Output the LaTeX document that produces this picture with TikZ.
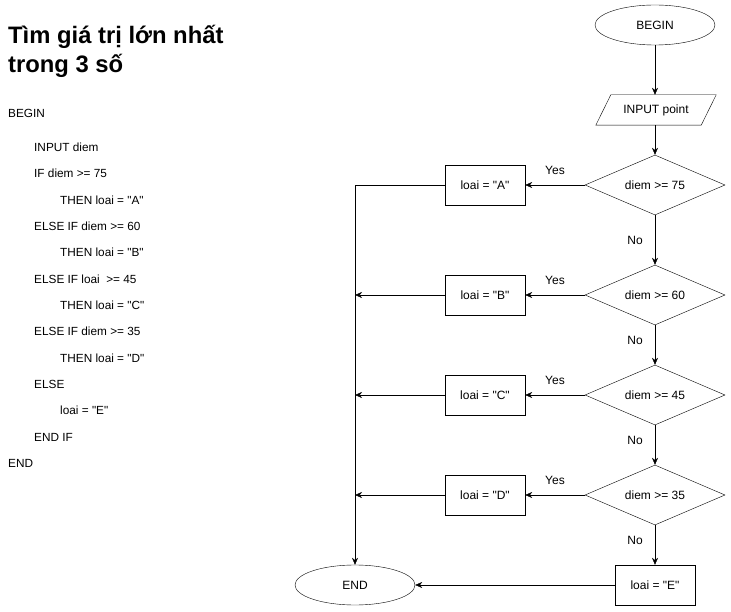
\documentclass[tikz,border=0pt]{standalone}
\usepackage{fontspec}
\setmainfont{Liberation Sans}[Ligatures=TeXOff]
\usetikzlibrary{shapes.geometric,arrows.meta}
\begin{document}
\begin{tikzpicture}[x=1pt,y=-1pt,
  every node/.style={font=\fontsize{12}{14}\selectfont},
  term/.style={draw,ellipse,minimum width=120pt,minimum height=40pt,inner sep=0pt},
  iobox/.style={rectangle,minimum width=120pt,minimum height=30pt,inner sep=0pt},
  decision/.style={draw,diamond,aspect=2.33,minimum width=140pt,minimum height=60pt,inner sep=0pt},
  proc/.style={draw,rectangle,minimum width=80pt,minimum height=40pt,inner sep=0pt},
  arr/.style={draw,-{Stealth[length=7pt,width=6pt]}},
  lbl/.style={font=\fontsize{12}{14}\selectfont,inner sep=0pt},
  code/.style={anchor=west,inner sep=0pt,font=\fontsize{11.8}{14}\selectfont},
  title/.style={anchor=west,inner sep=0pt,font=\fontsize{23.8}{28}\bfseries\selectfont}
]
\useasboundingbox (0,0) rectangle (731,612);

% title
\node[title] (t1) at (8,37) {Tìm giá trị lớn nhất};
\node[title] (t2) at (8,66) {trong 3 số};

% pseudocode
\node[code] (c1) at (8,113) {BEGIN};
\node[code] (c2) at (34,147) {INPUT diem};
\node[code] (c3) at (34,173) {IF diem >= 75};
\node[code] (c4) at (60,200) {THEN loai = "A"};
\node[code] (c5) at (34,226) {ELSE IF diem >= 60};
\node[code] (c6) at (60,252) {THEN loai = "B"};
\node[code] (c7) at (34,279) {ELSE IF loai \ >= 45};
\node[code] (c8) at (60,305) {THEN loai = "C"};
\node[code] (c9) at (34,331) {ELSE IF diem >= 35};
\node[code] (c10) at (60,358) {THEN loai = "D"};
\node[code] (c11) at (34,384) {ELSE};
\node[code] (c12) at (60,410) {loai = "E"};
\node[code] (c13) at (34,437) {END IF};
\node[code] (c14) at (8,463) {END};

% flowchart
\node[term] (begin) at (655,25) {BEGIN};
\node[iobox] (input) at (656,110) {INPUT point};
\draw ([xshift=15pt]input.north west) -- (input.north east)
      -- ([xshift=-15pt]input.south east) -- (input.south west) -- cycle;
\node[decision] (d1) at (655,185) {diem >= 75};
\node[decision] (d2) at (655,295) {diem >= 60};
\node[decision] (d3) at (655,395) {diem >= 45};
\node[decision] (d4) at (655,495) {diem >= 35};
\node[proc] (a) at (485,185) {loai = "A"};
\node[proc] (b) at (485,295) {loai = "B"};
\node[proc] (c) at (485,395) {loai = "C"};
\node[proc] (d) at (485,495) {loai = "D"};
\node[proc] (e) at (655,585) {loai = "E"};
\node[term] (end) at (355,585) {END};

\coordinate (ja) at (355,185);
\coordinate (jb) at (355,295);
\coordinate (jc) at (355,395);
\coordinate (jd) at (355,495);

\draw[arr] (begin) -- (begin |- input.north);
\draw[arr] (input.south -| d1) -- (d1);
\draw[arr] (d1) -- (d2);
\draw[arr] (d2) -- (d3);
\draw[arr] (d3) -- (d4);
\draw[arr] (d4) -- (e);
\draw[arr] (d1) -- (a);
\draw[arr] (d2) -- (b);
\draw[arr] (d3) -- (c);
\draw[arr] (d4) -- (d);
\draw[arr] (a.west) -- (ja) -- (end);
\draw[arr] (b) -- (jb);
\draw[arr] (c) -- (jc);
\draw[arr] (d) -- (jd);
\draw[arr] (e) -- (end);

\node[lbl] (y1) at (555,170) {Yes};
\node[lbl] (y2) at (555,280) {Yes};
\node[lbl] (y3) at (555,380) {Yes};
\node[lbl] (y4) at (555,480) {Yes};
\node[lbl] (n1) at (635,240) {No};
\node[lbl] (n2) at (635,340) {No};
\node[lbl] (n3) at (635,440) {No};
\node[lbl] (n4) at (635,540) {No};
\end{tikzpicture}
\end{document}
